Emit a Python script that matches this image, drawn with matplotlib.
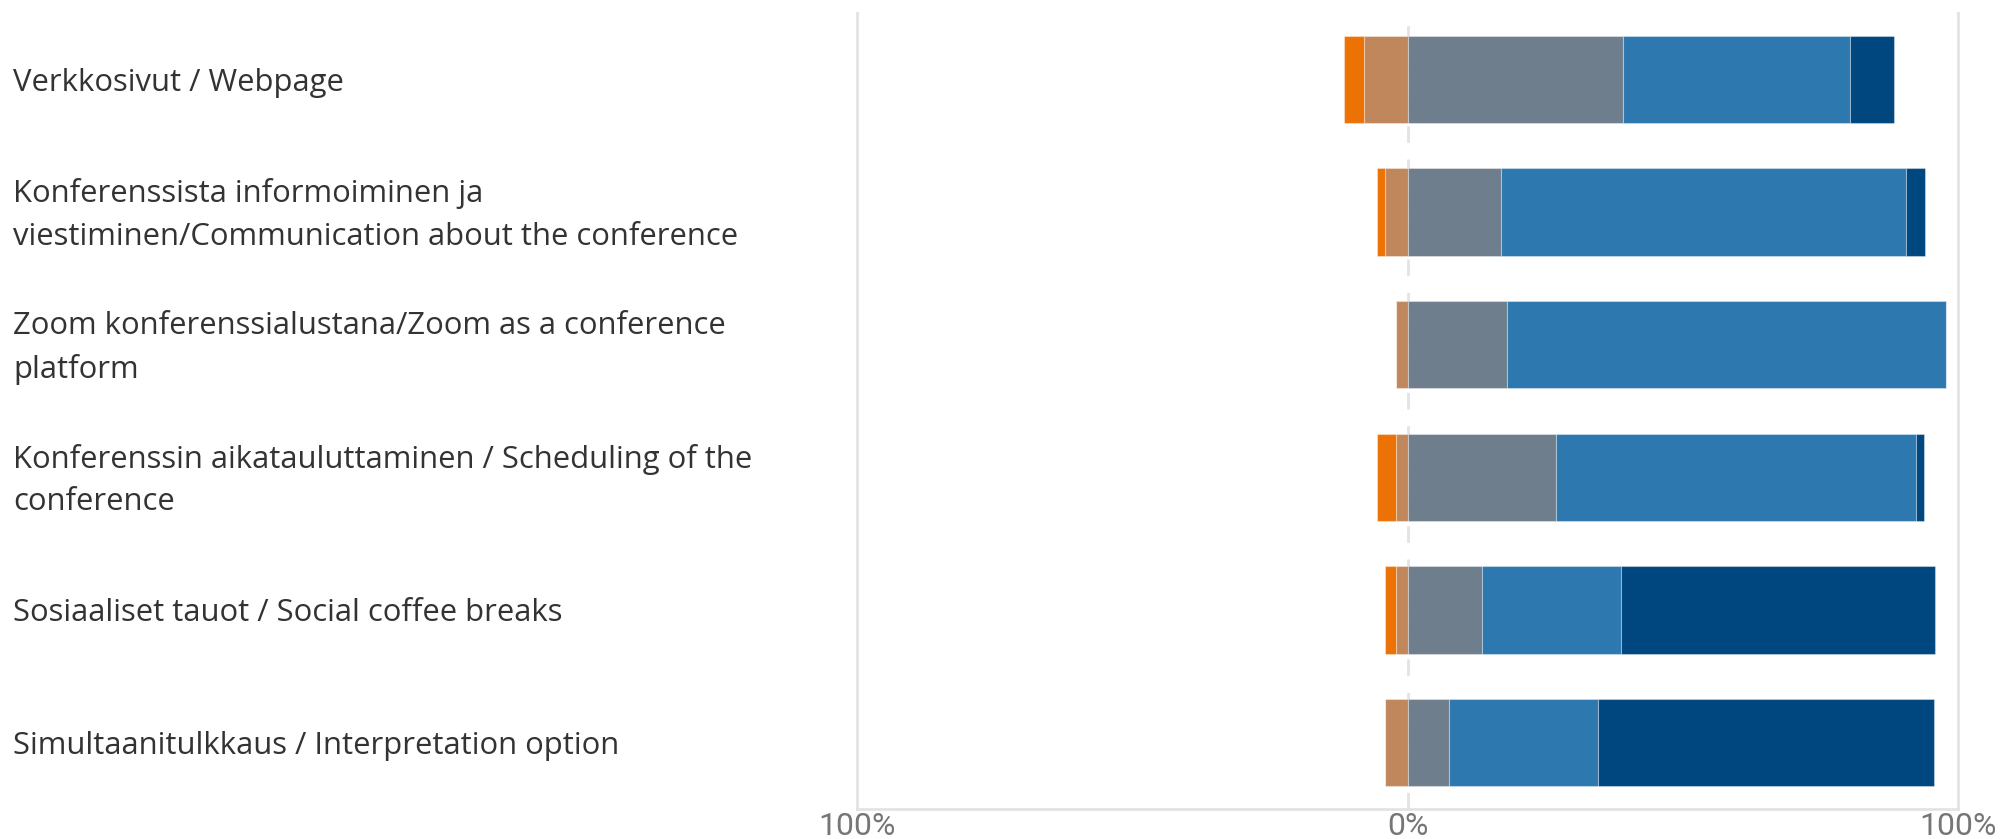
import matplotlib
matplotlib.use("Agg")
import matplotlib.pyplot as plt
import numpy as np

categories = [
    "Verkkosivut / Webpage",
    "Konferenssista informoiminen ja\nviestiminen/Communication about the conference",
    "Zoom konferenssialustana/Zoom as a conference\nplatform",
    "Konferenssin aikatauluttaminen / Scheduling of the\nconference",
    "Sosiaaliset tauot / Social coffee breaks",
    "Simultaanitulkkaus / Interpretation option",
]
# shares in percent: very negative, negative, neutral, positive, very positive
very_negative = [3.7, 1.5, 0.0, 3.5, 2.0, 0.0]
negative      = [7.9, 4.1, 2.0, 2.0, 2.0, 4.1]
neutral       = [39.1, 17.0, 18.0, 27.0, 13.6, 7.5]
positive      = [41.3, 73.5, 79.9, 65.3, 25.1, 27.1]
very_positive = [7.9, 3.5, 0.0, 1.5, 57.1, 61.1]

tick_values = [-100, 0, 100]
tick_labels = ["100%", "0%", "100%"]

colors = ["#EC7206", "#C1875C", "#6F7E8D", "#2C78AF", "#00467F"]

fig = plt.figure(figsize=(20, 8.39), dpi=100)
ax = fig.add_axes([0.4285, 0.0358, 0.5505, 0.9487])

y = np.arange(len(categories))
h = 0.66
vn = np.array(very_negative)
ng = np.array(negative)
nt = np.array(neutral)
ps = np.array(positive)
vp = np.array(very_positive)

kw = dict(height=h, edgecolor=(1, 1, 1, 0.35), linewidth=0.8, zorder=3)
ax.barh(y, -ng, left=0, color=colors[1], **kw)
ax.barh(y, -vn, left=-ng, color=colors[0], **kw)
ax.barh(y, nt, left=0, color=colors[2], **kw)
ax.barh(y, ps, left=nt, color=colors[3], **kw)
ax.barh(y, vp, left=nt + ps, color=colors[4], **kw)

ax.axvline(0, color="#E3E3E3", linewidth=2, linestyle=(0, (6, 6)), zorder=1)

ax.set_xlim(-100, 100)
ax.set_ylim(len(categories) - 0.5, -0.5)

ax.spines["top"].set_visible(False)
for s in ["left", "right", "bottom"]:
    ax.spines[s].set_color("#E3E3E3")
    ax.spines[s].set_linewidth(2)

ax.set_xticks(tick_values)
ax.set_xticklabels(tick_labels, color="#767676", fontsize=23,
                   family=["Liberation Sans Narrow", "Roboto", "DejaVu Sans"])
ax.tick_params(axis="x", length=0, pad=2)
ax.set_yticks([])

# label x position: 13 px from figure left edge, in axes-fraction coordinates
ax_w_px = 0.5505 * 2000
label_x = (13 - 0.4285 * 2000) / ax_w_px
for yi, cat in zip(y, categories):
    ax.text(label_x, yi + 0.025, cat, transform=ax.get_yaxis_transform(),
            ha="left", va="center", fontsize=22.3, color="#333333",
            family=["Open Sans", "DejaVu Sans"], linespacing=1.55, clip_on=False)

fig.savefig("out.png", dpi=100, facecolor="white")
